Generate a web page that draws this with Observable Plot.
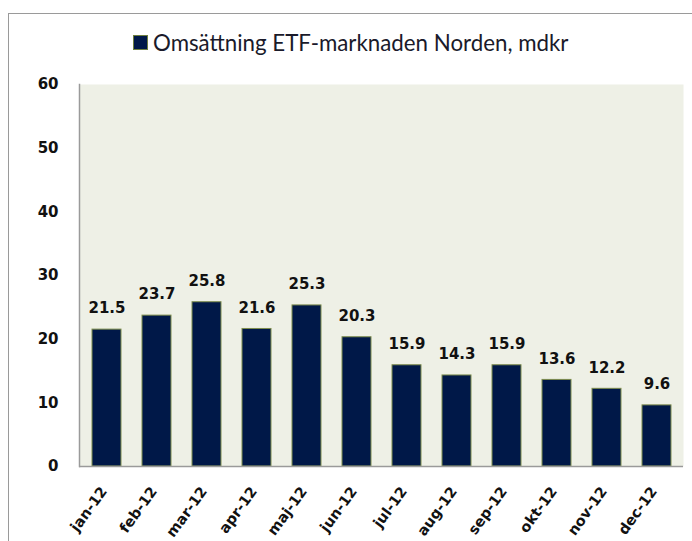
<!DOCTYPE html>
<html>
<head>
<meta charset="utf-8">
<script src="https://cdn.jsdelivr.net/npm/d3@7"></script>
<script src="https://cdn.jsdelivr.net/npm/@observablehq/plot@0.6"></script>
<style>
  html, body { margin: 0; padding: 0; background: #fff; }
  #wrap { position: relative; width: 692px; height: 541px; overflow: hidden; }
  #border { position: absolute; left: 8px; top: 13px; width: 700px; height: 600px; border-left: 1px solid #9a9a9a; border-top: 1px solid #9a9a9a; }
  #legend { position: absolute; left: 133px; top: 29px; height: 26px; display: flex; align-items: center; font-family: Lato, "Open Sans", sans-serif; font-size: 22.3px; color: #1a1a2a; white-space: nowrap; }
  #legend .sw { width: 13px; height: 13px; background: #001848; border: 1px solid #6f7f40; margin-right: 5px; }
  #chart { position: absolute; left: 0; top: 0; }
</style>
</head>
<body>
<div id="wrap">
  <div id="border"></div>
  <div id="legend"><span class="sw"></span><span id="legtext"></span></div>
  <div id="chart"></div>
</div>
<script>
const legendLabel = "Omsättning ETF-marknaden Norden, mdkr";
const months = ["jan-12","feb-12","mar-12","apr-12","maj-12","jun-12","jul-12","aug-12","sep-12","okt-12","nov-12","dec-12"];
const values = [21.5, 23.7, 25.8, 21.6, 25.3, 20.3, 15.9, 14.3, 15.9, 13.6, 12.2, 9.6];
const yTicks = [0, 10, 20, 30, 40, 50, 60];

document.getElementById("legtext").textContent = legendLabel;

const data = months.map((m, i) => ({month: m, value: values[i]}));

const chart = Plot.plot({
  width: 692,
  height: 541,
  marginLeft: 79,
  marginRight: 9,
  marginTop: 84,
  marginBottom: 75,
  style: {background: "transparent", fontFamily: "DejaVu Sans", color: "#111"},
  x: {domain: months, paddingInner: 0.43, paddingOuter: 0.215, label: null},
  y: {domain: [0, 60], label: null},
  marks: [
    Plot.frame({fill: "#eef0e6", stroke: null}),
    Plot.barY(data, {x: "month", y: "value", fill: "#001848", stroke: "#7d8c4c", strokeWidth: 1}),
    Plot.text(data, {x: "month", y: "value", text: d => d.value.toFixed(1), dy: -21, fontWeight: "bold", fontSize: 15, fill: "#111"}),
    Plot.axisY({ticks: yTicks, tickSize: 0, tickPadding: 21, fontWeight: "bold", fontSize: 15, label: null}),
    Plot.axisX({tickSize: 0, tickRotate: -54, tickPadding: 22, dx: -3, fontWeight: "bold", fontSize: 14.5, label: null}),
    Plot.frame({anchor: "left", stroke: "#9a9a9a", strokeWidth: 1.5}),
    Plot.ruleY([0], {stroke: "#9a9a9a", strokeWidth: 1.5})
  ]
});
document.getElementById("chart").appendChild(chart);
</script>
</body>
</html>
